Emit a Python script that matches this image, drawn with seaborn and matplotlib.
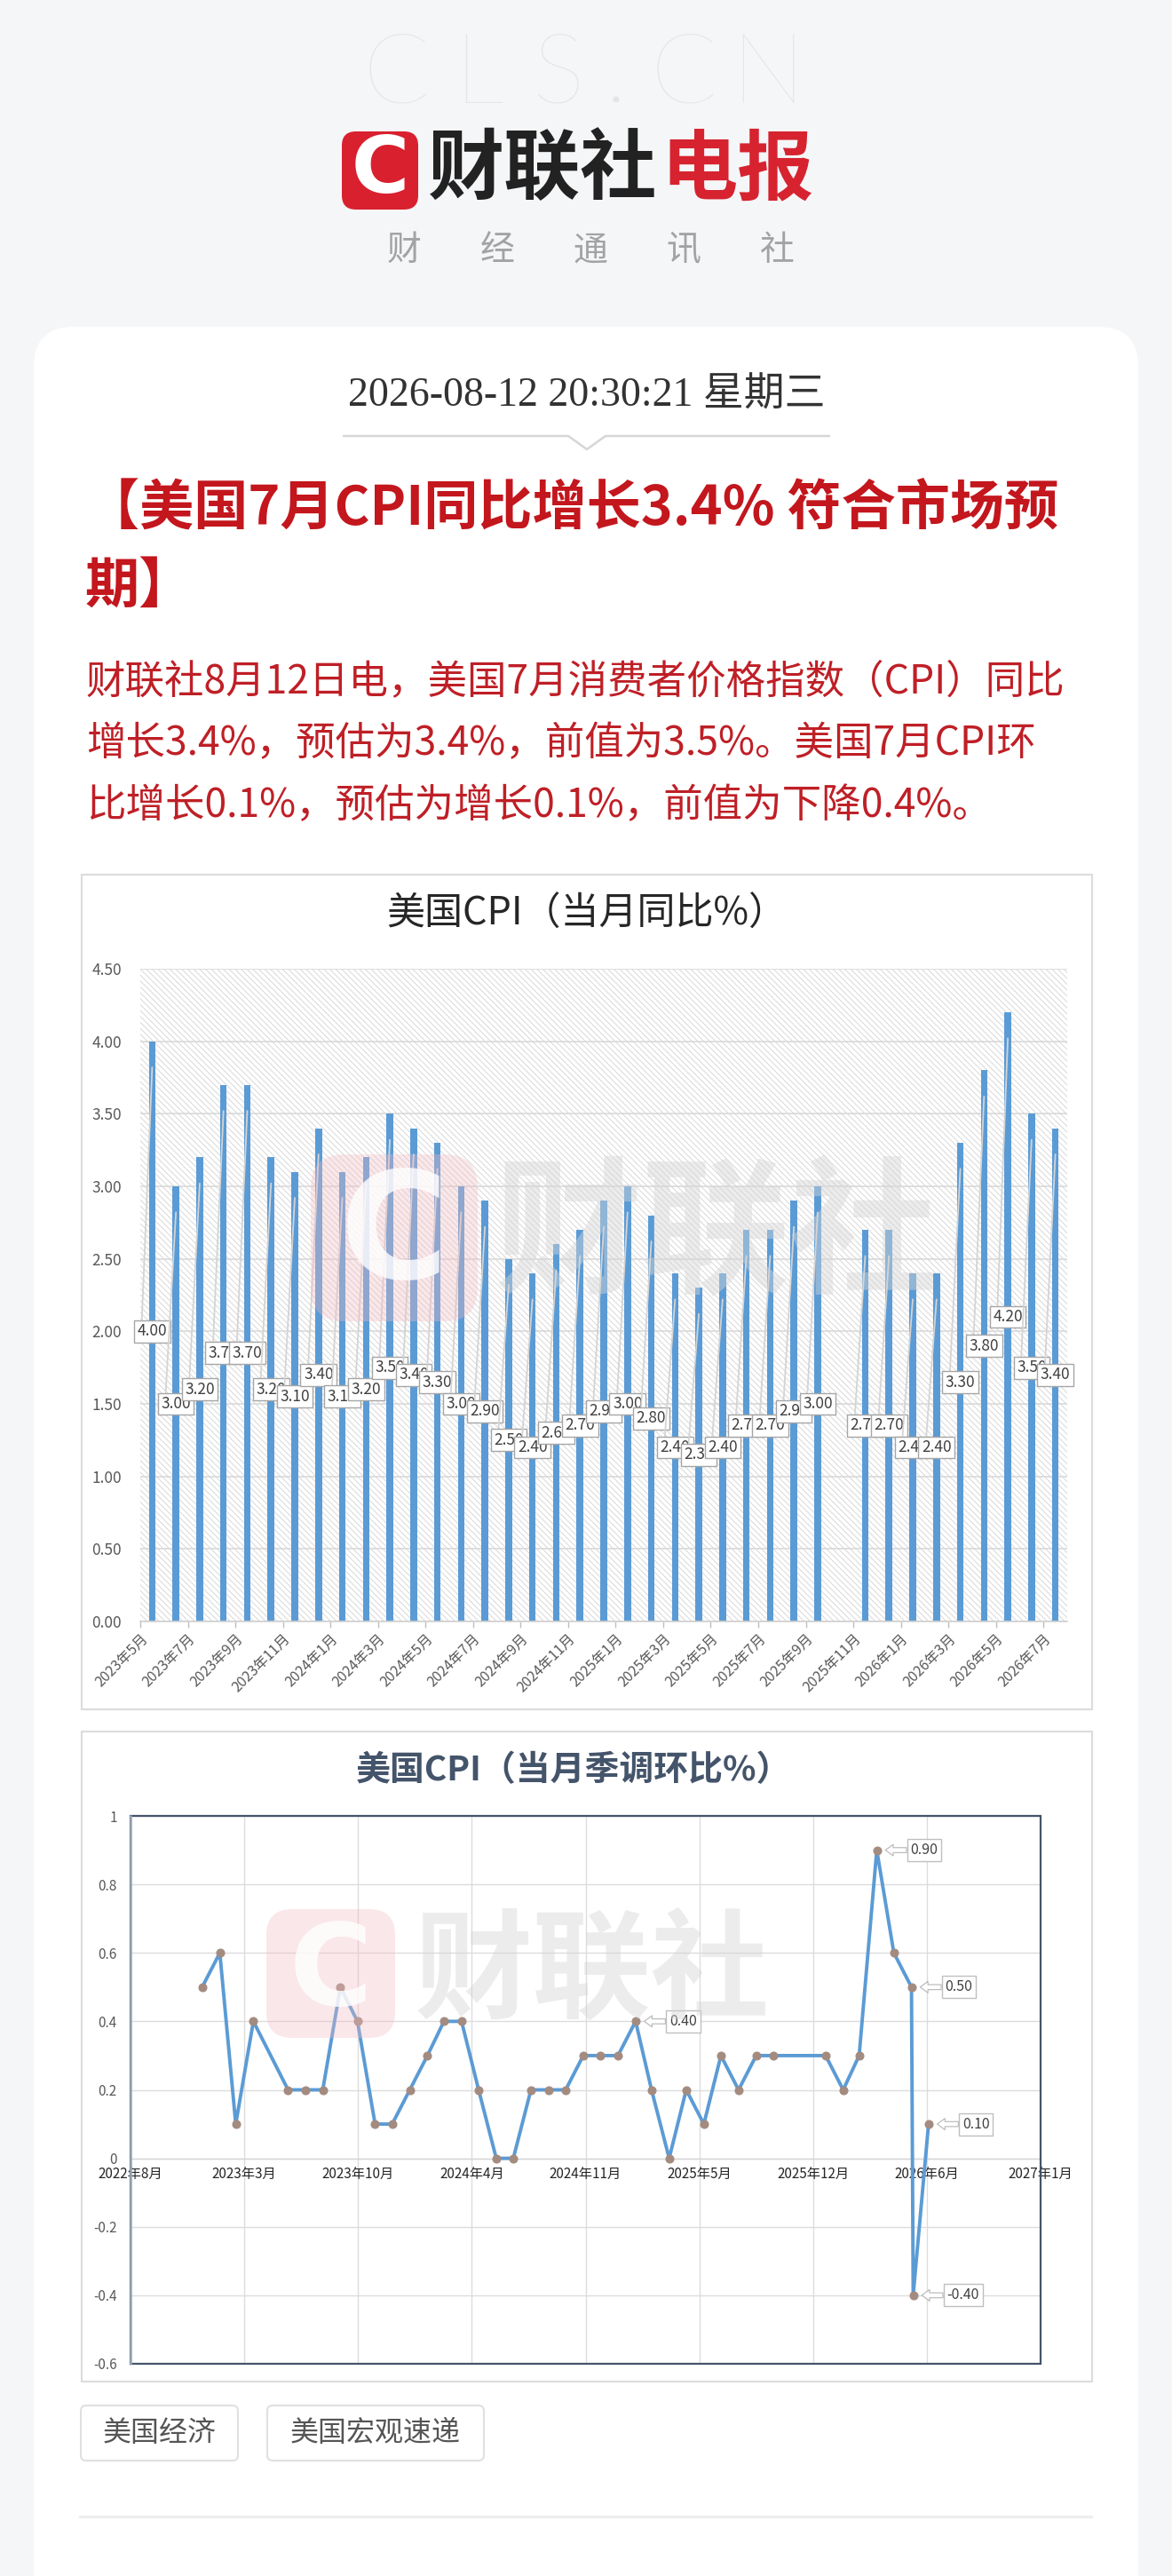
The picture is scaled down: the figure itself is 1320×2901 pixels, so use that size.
import matplotlib
matplotlib.use("Agg")
import matplotlib.pyplot as plt
import matplotlib.dates as mdates
from matplotlib.patches import FancyBboxPatch, Rectangle
import numpy as np
import pandas as pd
import seaborn as sns

# 美国CPI（当月同比%），2025年10月无数据
yoy_months = ['2023-05', '2023-06', '2023-07', '2023-08', '2023-09', '2023-10', '2023-11', '2023-12',
              '2024-01', '2024-02', '2024-03', '2024-04', '2024-05', '2024-06', '2024-07', '2024-08',
              '2024-09', '2024-10', '2024-11', '2024-12',
              '2025-01', '2025-02', '2025-03', '2025-04', '2025-05', '2025-06', '2025-07', '2025-08',
              '2025-09', '2025-11', '2025-12',
              '2026-01', '2026-02', '2026-03', '2026-04', '2026-05', '2026-06', '2026-07']
yoy_values = [4.0, 3.0, 3.2, 3.7, 3.7, 3.2, 3.1, 3.4,
              3.1, 3.2, 3.5, 3.4, 3.3, 3.0, 2.9, 2.5, 2.4, 2.6, 2.7, 2.9,
              3.0, 2.8, 2.4, 2.3, 2.4, 2.7, 2.7, 2.9, 3.0, 2.7, 2.7,
              2.4, 2.4, 3.3, 3.8, 4.2, 3.5, 3.4]
yoy_tick_labels = ['2023年5月', '2023年7月', '2023年9月', '2023年11月', '2024年1月', '2024年3月',
                   '2024年5月', '2024年7月', '2024年9月', '2024年11月', '2025年1月', '2025年3月',
                   '2025年5月', '2025年7月', '2025年9月', '2025年11月', '2026年1月', '2026年3月',
                   '2026年5月', '2026年7月']

# 美国CPI（当月季调环比%）
mom_dates = ['2023-01-01', '2023-02-01', '2023-03-01', '2023-04-01', '2023-06-01', '2023-07-01',
             '2023-08-01', '2023-09-01', '2023-10-01', '2023-11-01', '2023-12-01',
             '2024-01-01', '2024-02-01', '2024-03-01', '2024-04-01', '2024-05-01', '2024-06-01',
             '2024-07-01', '2024-08-01', '2024-09-01', '2024-10-01', '2024-11-01', '2024-12-01',
             '2025-01-01', '2025-02-01', '2025-03-01', '2025-04-01', '2025-05-01', '2025-06-01',
             '2025-07-01', '2025-08-01', '2025-09-01', '2025-10-01',
             '2026-01-01', '2026-02-01', '2026-03-01', '2026-04-01', '2026-05-01', '2026-06-01',
             '2026-06-04', '2026-07-01']
mom_values = [0.5, 0.6, 0.1, 0.4, 0.2, 0.2, 0.2, 0.5, 0.4, 0.1, 0.1,
              0.2, 0.3, 0.4, 0.4, 0.2, 0.0, 0.0, 0.2, 0.2, 0.2, 0.3, 0.3,
              0.3, 0.4, 0.2, 0.0, 0.2, 0.1, 0.3, 0.2, 0.3, 0.3,
              0.3, 0.2, 0.3, 0.9, 0.6, 0.5, -0.4, 0.1]
mom_labeled = ['2025-02-01', '2026-04-01', '2026-06-01', '2026-06-04', '2026-07-01']
mom_tick_start = '2022-08-28'
mom_tick_labels = ['2022年8月', '2023年3月', '2023年10月', '2024年4月', '2024年11月',
                   '2025年5月', '2025年12月', '2026年6月', '2027年1月']

W, H = 1320, 2901
sns.set_theme(style="white")
plt.rcParams['font.family'] = ['Noto Sans CJK SC', 'DejaVu Sans']
plt.rcParams['axes.unicode_minus'] = False
plt.rcParams['hatch.linewidth'] = 0.6

fig = plt.figure(figsize=(W / 100, H / 100), dpi=100)
fig.patch.set_facecolor('#f5f6f8')


def px_axes(l, t, r, b, z=1):
    ax = fig.add_axes([l / W, 1 - b / H, (r - l) / W, (b - t) / H])
    ax.set_zorder(z)
    return ax


def px_layer(z):
    ax = px_axes(0, 0, W, H, z)
    ax.set_xlim(0, W)
    ax.set_ylim(H, 0)
    ax.axis('off')
    return ax


bg = px_layer(0)

# header
for ch, xc in zip('CLS.CN', [446, 539, 629, 694, 770, 865]):
    bg.text(xc, 116, ch, fontsize=80, color='#e3e6e9', ha='center', va='baseline',
            family=['Lato', 'DejaVu Sans'], fontweight='light')
bg.add_patch(FancyBboxPatch((385, 148), 86, 88, boxstyle='round,pad=0,rounding_size=16',
                            fc='#d9202e', ec='none'))
bg.text(428, 193, 'C', fontsize=64, fontweight='bold', color='white', ha='center', va='center',
        family='DejaVu Sans')
bg.text(482, 192, '财联社', fontsize=62, fontweight='bold', color='#222222', ha='left', va='center')
bg.text(744, 192, '电报', fontsize=62, fontweight='bold', color='#d6232f', ha='left', va='center')
for ch, xc in zip('财经通讯社', [455, 560, 665, 770, 875]):
    bg.text(xc, 282, ch, fontsize=28, color='#a3a3a3', ha='center', va='center')

# card
bg.add_patch(FancyBboxPatch((38, 368), 1244, 2700, boxstyle='round,pad=0,rounding_size=45',
                            fc='white', ec='none'))
bg.text(661, 446, '2026-08-12 20:30:21 星期三', fontsize=33, color='#333333', ha='center',
        va='center', family=['Liberation Serif', 'Noto Sans CJK SC'])
bg.plot([387, 640, 661, 682, 934], [491, 491, 506, 491, 491], color='#d6d6d6', lw=1.8)

title_red = '#c3161d'
bg.text(96, 574, '【美国7月CPI同比增长3.4% 符合市场预', fontsize=44, fontweight='bold',
        color=title_red, ha='left', va='center')
bg.text(96, 661, '期】', fontsize=44, fontweight='bold', color=title_red, ha='left', va='center')

body_lines = ['财联社8月12日电，美国7月消费者价格指数（CPI）同比',
              '增长3.4%，预估为3.4%，前值为3.5%。美国7月CPI环',
              '比增长0.1%，预估为增长0.1%，前值为下降0.4%。']
for line, yc in zip(body_lines, [767, 837, 907]):
    bg.text(97, yc, line, fontsize=32, color='#bf1f26', ha='left', va='center')

# chart frames
bg.add_patch(Rectangle((92, 985), 1138, 940, fc='white', ec='#dcdcdc', lw=1.5))
bg.add_patch(Rectangle((92, 1950), 1138, 732, fc='white', ec='#dcdcdc', lw=1.5))
bg.text(661, 1030, '美国CPI（当月同比%）', fontsize=31, color='#262626', ha='center', va='center')
bg.text(646, 1994, '美国CPI（当月季调环比%）', fontsize=28, fontweight='bold', color='#44546a',
        ha='center', va='center')

# tags and separator
for (x0, w, txt) in [(91, 177, '美国经济'), (301, 244, '美国宏观速递')]:
    bg.add_patch(FancyBboxPatch((x0, 2709), w, 62, boxstyle='round,pad=0,rounding_size=6',
                                fc='white', ec='#e0e0e0', lw=1.5))
    bg.text(x0 + w / 2, 2740, txt, fontsize=23, color='#555555', ha='center', va='center')
bg.plot([90, 1229], [2834, 2834], color='#eeeeee', lw=2.5)

# ---- bar chart: YoY ----
ax1 = px_axes(158, 1091, 1202, 1826, z=2)
ax1.patch.set_alpha(0)
ax1.add_patch(Rectangle((0, 0), 1, 1, transform=ax1.transAxes, fc='white', ec='#d2d2d2', lw=0,
                        hatch='\\\\\\\\\\', zorder=0))
base = pd.Period('2023-05', freq='M')
yoy_x = np.array([(pd.Period(m, freq='M') - base).n for m in yoy_months]) + 0.5
sns.barplot(x=yoy_x, y=yoy_values, native_scale=True, width=0.28, color='#5b9bd5',
            saturation=1, errorbar=None, linewidth=0, ax=ax1, zorder=2)
ax1.set_xlim(0, 39)
ax1.set_ylim(0, 4.5)
ax1.set_axisbelow(True)
ax1.grid(axis='y', color='#d9d9d9', lw=1.2)
ax1.grid(axis='x', visible=False)
yt = np.arange(0, 4.51, 0.5)
ax1.set_yticks(yt)
ax1.set_yticklabels([f'{v:.2f}' for v in yt], fontsize=12.5, color='#595959')
ax1.set_xticks(np.arange(0, 39, 2))
ax1.set_xticklabels(yoy_tick_labels, rotation=45, ha='right', rotation_mode='anchor',
                    fontsize=11.5, color='#595959')
ax1.tick_params(axis='y', length=0, pad=15)
ax1.tick_params(axis='x', length=5, color='#bfbfbf', width=1, pad=3, direction='out', bottom=True)
for s in ['top', 'right', 'left']:
    ax1.spines[s].set_visible(False)
ax1.spines['bottom'].set_color('#d0d0d0')
ax1.spines['bottom'].set_linewidth(1.2)
ax1.set_xlabel('')
ax1.set_ylabel('')
for x, v in zip(yoy_x, yoy_values):
    ax1.annotate(f'{v:.2f}', xy=(x, v - 0.18), xytext=(x, v / 2), ha='center', va='center',
                 fontsize=12.5, color='#404040', zorder=4,
                 bbox=dict(boxstyle='square,pad=0.2', fc='white', ec='#a6a6a6', lw=1),
                 arrowprops=dict(arrowstyle='-', color='#d4d4d4', lw=1.3, relpos=(0.15, 1.0),
                                 shrinkA=0, shrinkB=0))

# ---- line chart: MoM ----
ax2 = px_axes(147, 2045, 1172, 2662, z=2)
ax2.patch.set_alpha(0)
mom_x = mdates.date2num(pd.to_datetime(mom_dates))
ticks = mdates.date2num(pd.Timestamp(mom_tick_start)) + 200 * np.arange(len(mom_tick_labels))
sns.lineplot(x=mom_x, y=mom_values, ax=ax2, color='#5b9bd5', lw=2.8, marker='o', markersize=6.5,
             markerfacecolor='#a38b80', markeredgecolor='#a38b80', zorder=3)
ax2.set_xlim(ticks[0], ticks[-1])
ax2.set_ylim(-0.6, 1.0)
ax2.set_xticks(ticks)
ax2.set_xticklabels(mom_tick_labels, fontsize=11, color='#595959')
yt2 = np.round(np.arange(-0.6, 1.01, 0.2), 1)
ax2.set_yticks(yt2)
ax2.set_yticklabels([f'{v:g}' if v != 0 else '0' for v in yt2], fontsize=11, color='#595959')
ax2.grid(True, color='#dcdcdc', lw=1)
ax2.tick_params(axis='both', length=0)
ax2.tick_params(axis='y', pad=11)
ax2.tick_params(axis='x', pad=7)
ax2.spines['bottom'].set_position(('data', 0))
ax2.spines['bottom'].set_color('#d6d6d6')
ax2.spines['bottom'].set_linewidth(1)
for s in ['top', 'right', 'left']:
    ax2.spines[s].set_visible(False)
ax2.add_patch(Rectangle((0, 0), 1, 1, transform=ax2.transAxes, fill=False, ec='#44546a', lw=1.6,
                        clip_on=False, zorder=5))
ax2.plot([0, 0], [0, 1], transform=ax2.transAxes, color='#9aa8ba', lw=1.8, clip_on=False, zorder=6)
ax2.set_xlabel('')
ax2.set_ylabel('')
for d in mom_labeled:
    i = mom_dates.index(d)
    ax2.annotate(f'{mom_values[i]:.2f}', xy=(mom_x[i], mom_values[i]), xytext=(38, 0),
                 textcoords='offset pixels', ha='left', va='center', fontsize=11.5,
                 color='#404040', zorder=6,
                 bbox=dict(boxstyle='square,pad=0.25', fc='white', ec='#bfbfbf', lw=1),
                 arrowprops=dict(arrowstyle='simple,head_length=0.55,head_width=0.8,tail_width=0.35',
                                 fc='white', ec='#b5b5b5', lw=0.8, relpos=(0, 0.5),
                                 shrinkA=0, shrinkB=7))

# ---- watermarks ----
ov = px_layer(5)
for (x0, y0, s, fs_c, tx, fs_t) in [(350, 1300, 188, 120, 557, 120), (300, 2150, 145, 92, 467, 96)]:
    ov.add_patch(FancyBboxPatch((x0, y0), s, s, boxstyle=f'round,pad=0,rounding_size={s * 0.2}',
                                fc='#f3bcc3', ec='none', alpha=0.35))
    ov.text(x0 + s / 2, y0 + s / 2, 'C', fontsize=fs_c, fontweight='bold', color='white',
            alpha=0.8, ha='center', va='center', family='DejaVu Sans')
    ov.text(tx, y0 + s / 2, '财联社', fontsize=fs_t, fontweight='bold', color='#d5d5d5',
            alpha=0.45, ha='left', va='center')

fig.savefig('out.png', dpi=100, facecolor=fig.get_facecolor())
